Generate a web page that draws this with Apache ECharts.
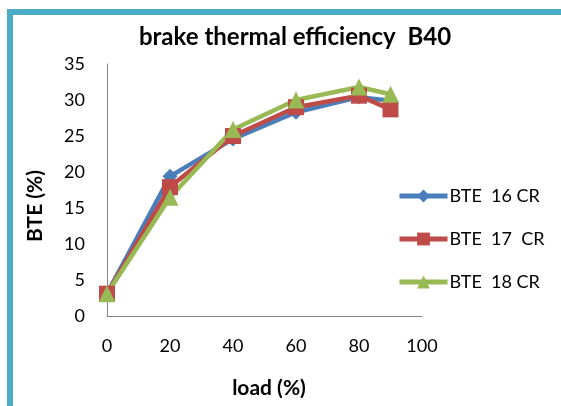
<!DOCTYPE html>
<html>
<head>
<meta charset="utf-8">
<script src="https://cdn.jsdelivr.net/npm/echarts@6/dist/echarts.min.js"></script>
<style>
  html, body { margin: 0; padding: 0; background: #ffffff; }
  #chart { width: 561px; height: 406px; }
</style>
</head>
<body>
<div id="chart"></div>
<script>
// Engine load (%) at each test point
const load = [0, 20, 40, 60, 80, 90];

// Brake thermal efficiency (%) for blend B40 at three compression ratios
const bte16 = [3.1, 19.4, 24.6, 28.3, 30.4, 29.9];
const bte17 = [3.1, 17.9, 25.0, 29.0, 30.6, 28.7];
const bte18 = [3.1, 16.5, 25.9, 30.0, 31.8, 30.8];

const seriesNames = ['BTE  16 CR', 'BTE  17  CR', 'BTE  18 CR'];

// Axis ranges and steps
const xTicks = { min: 0, max: 100, interval: 20 };
const yTicks = { min: 0, max: 35, interval: 5 };

const FONT = 'Lato, "Open Sans", sans-serif';
const pairs = (xs, ys) => xs.map((x, i) => [x, ys[i]]);

const chart = echarts.init(document.getElementById('chart'), null, { renderer: 'canvas' });

const lineSeries = (name, values, color, symbol, size) => ({
  name,
  type: 'line',
  data: pairs(load, values),
  symbol,
  symbolSize: size,
  showSymbol: true,
  lineStyle: { color, width: 4.5 },
  itemStyle: { color, borderWidth: 0 },
  emphasis: { disabled: true },
  animation: false
});

chart.setOption({
  backgroundColor: '#ffffff',
  animation: false,
  title: {
    text: 'brake thermal efficiency  B40',
    left: 290,
    top: 20,
    textAlign: 'center',
    textStyle: { fontFamily: FONT, fontSize: 24, fontWeight: 'bold', color: '#000000' }
  },
  grid: { left: 107, top: 64, width: 315, height: 252, containLabel: false },
  xAxis: {
    type: 'value',
    min: xTicks.min,
    max: xTicks.max,
    interval: xTicks.interval,
    axisLine: { show: true, lineStyle: { color: '#868686', width: 1 } },
    axisTick: { show: false },
    splitLine: { show: false },
    axisLabel: { margin: 21, fontFamily: FONT, fontSize: 18, color: '#000000' }
  },
  yAxis: {
    type: 'value',
    min: yTicks.min,
    max: yTicks.max,
    interval: yTicks.interval,
    axisLine: { show: true, lineStyle: { color: '#868686', width: 1 } },
    axisTick: { show: false },
    splitLine: { show: false },
    axisLabel: { margin: 22, fontFamily: FONT, fontSize: 18, color: '#000000' }
  },
  legend: {
    orient: 'vertical',
    left: 392,
    top: 182,
    itemWidth: 48,
    itemHeight: 16,
    itemGap: 25,
    data: seriesNames,
    lineStyle: { width: 5 },
    textStyle: { fontFamily: FONT, fontSize: 18, color: '#000000', padding: [0, 0, 0, -3] }
  },
  graphic: [
    // frame bands along the top and left edges
    { type: 'rect', shape: { x: 7, y: 9, width: 554, height: 6 }, style: { fill: '#4BACC6' }, silent: true },
    { type: 'rect', shape: { x: 7, y: 9, width: 6, height: 397 }, style: { fill: '#4BACC6' }, silent: true },
    // axis titles
    {
      type: 'text', x: 35, y: 206, rotation: Math.PI / 2,
      style: { text: 'BTE (%)', fontFamily: FONT, fontSize: 21, fontWeight: 'bold', fill: '#000000', align: 'center', verticalAlign: 'middle' }
    },
    {
      type: 'text', x: 269, y: 388,
      style: { text: 'load (%)', fontFamily: FONT, fontSize: 21, fontWeight: 'bold', fill: '#000000', align: 'center', verticalAlign: 'middle' }
    }
  ],
  series: [
    lineSeries(seriesNames[0], bte16, '#4A7EBB', 'diamond', 15),
    lineSeries(seriesNames[1], bte17, '#BE4B48', 'rect', 16),
    lineSeries(seriesNames[2], bte18, '#98B954', 'triangle', 17)
  ]
});
</script>
</body>
</html>
